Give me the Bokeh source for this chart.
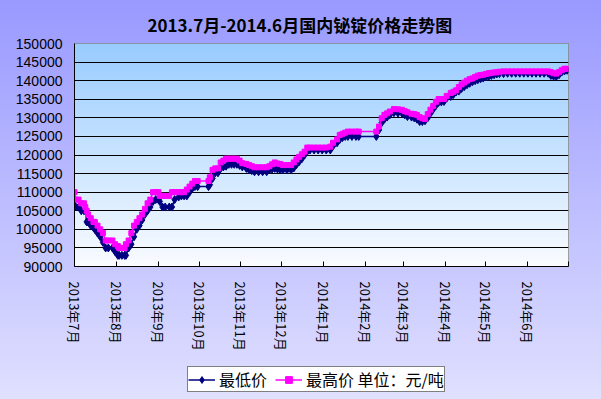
import numpy as np
from bokeh.plotting import figure
from bokeh.layouts import column
from bokeh.models import Range1d, FixedTicker, Legend, LegendItem
from bokeh.embed import file_html
from bokeh.resources import INLINE

title_text = "2013.7月-2014.6月国内铋锭价格走势图"
month_ticks = [0, 31, 62, 92, 123, 153, 184, 215, 243, 274, 304, 335]
month_labels = ["2013年7月", "2013年8月", "2013年9月", "2013年10月", "2013年11月", "2013年12月",
                "2014年1月", "2014年2月", "2014年3月", "2014年4月", "2014年5月", "2014年6月"]
y_ticks = [90000, 95000, 100000, 105000, 110000, 115000, 120000, 125000, 130000, 135000, 140000, 145000, 150000]
series_names = ["最低价", "最高价 单位：元/吨"]

# day offsets from 2013-07-01
days = [0, 1, 3, 5, 7, 8, 9, 10, 12, 14, 15, 17, 19, 21, 23, 25, 28, 30,
        32, 33, 35, 37, 38, 40, 42, 44, 46, 48, 50, 52, 54, 56, 58, 60,
        62, 63, 65, 67, 70, 72, 74, 77, 79, 81, 83, 85, 87, 89, 91,
        99, 100, 102, 104, 106, 108, 110, 112, 114, 116, 118, 120, 122,
        124, 127, 129, 131, 133, 136, 139, 142, 144, 146, 148, 150, 152,
        154, 157, 160, 162, 164, 166, 168, 170, 172, 174, 177, 180, 183,
        186, 189, 191, 194, 196, 198, 200, 202, 205, 208, 210,
        223, 225, 227, 229, 231, 233, 236, 239, 242,
        244, 246, 249, 251, 253, 255, 257, 259, 261, 263, 265, 267, 269, 271, 273,
        275, 278, 280, 282, 284, 286, 288, 290, 292, 294, 296, 298, 300, 302,
        304, 306, 308, 310, 312, 314, 317, 320, 323, 326, 329, 332,
        335, 338, 341, 344, 347, 350, 352, 354, 356, 358, 360, 362, 364]

high = [110000, 108000, 108000, 107000, 107000, 106000, 105000, 104000, 103000, 102000, 102000, 101000, 100000, 99000, 97000, 97000, 97000, 96000,
        95500, 95000, 95000, 95000, 96000, 97000, 99000, 101000, 102000, 103000, 104000, 105500, 107000, 108000, 110000, 110000,
        110000, 109000, 109000, 109000, 109000, 110000, 110000, 110000, 110000, 110000, 110700, 111500, 112300, 113000, 113000,
        113000, 114000, 116000, 116400, 116400, 118000, 118500, 119000, 119000, 119000, 119000, 119000, 118500,
        117800, 117600, 117300, 117000, 116700, 116700, 116700, 116700, 117000, 117500, 118000, 117700, 117600,
        117300, 117300, 117300, 118000, 118800, 119500, 120200, 120900, 122000, 122000, 122000, 122000, 122000,
        122000, 122250, 123300, 124200, 125400, 125700, 126000, 126300, 126300, 126300, 126300,
        126300, 127650, 129900, 130800, 131200, 131700, 132350, 132300, 132150,
        131800, 131500, 131100, 131000, 130800, 130200, 129900, 129700, 131000, 132200, 133200, 134300, 135050, 135050, 135050,
        135900, 136700, 137000, 137400, 138300, 139000, 139500, 140000, 140400, 140600, 141000, 141350, 141500, 141600,
        141800, 142000, 142100, 142200, 142250, 142400, 142500, 142500, 142500, 142500, 142500, 142500,
        142500, 142500, 142500, 142500, 142500, 142500, 142300, 142000, 141900, 142300, 142800, 143200, 143200]

low = [108000, 106000, 106000, 105000, 105000, 105000, 102000, 102000, 101000, 100500, 100000, 99000, 98000, 96500, 95000, 95000, 95000, 94000,
       93000, 93000, 93000, 93000, 93000, 95000, 96000, 98000, 100000, 101000, 102500, 104000, 105000, 106000, 107500, 108000,
       108000, 107500, 106000, 106000, 106000, 106000, 108000, 108700, 109000, 109000, 109000, 110000, 111000, 111500, 111500,
       111500, 112000, 113700, 115200, 115200, 116400, 116800, 117000, 117500, 117500, 117500, 117500, 117200,
       116800, 116400, 116000, 115800, 115500, 115500, 115500, 115500, 116000, 116200, 116400, 116200, 116100,
       116000, 116000, 116000, 116500, 117400, 118200, 119000, 120000, 121000, 121350, 121350, 121350, 121350,
       121350, 121350, 122400, 123300, 124200, 124700, 125000, 125000, 125000, 125000, 125000,
       125000, 126750, 128700, 129650, 130200, 130800, 131400, 131300, 131250,
       130800, 130350, 130200, 130000, 129650, 129000, 129000, 129200, 130000, 131200, 132300, 133300, 134150, 134300, 134400,
       135300, 135750, 136300, 137000, 137200, 137900, 138400, 138900, 139300, 139700, 140000, 140250, 140500, 140700,
       141000, 141150, 141400, 141600, 141800, 141900, 141900, 142000, 142000, 142000, 142000, 142000,
       142000, 142000, 142000, 142000, 142000, 142000, 141400, 141200, 141150, 141600, 142300, 142600, 142800]

assert len(days) == len(high) == len(low), (len(days), len(high), len(low))

CJK = "Noto Sans CJK SC"
BG = "linear-gradient(to bottom, #9999ff 0%, #e0e0ff 100%)"
NAVY = "#000080"
MAGENTA = "#FF00FF"

p = figure(frame_width=494, frame_height=223, x_range=Range1d(0, 365), y_range=Range1d(90000, 150000),
           output_backend="svg", toolbar_location=None,
           min_border_left=74, min_border_right=33, min_border_top=43, min_border_bottom=90)
p.border_fill_color = None
p.border_fill_alpha = 0
p.background_fill_color = "white"
p.outline_line_color = "#808080"
p.outline_line_width = 1

p.title.text = title_text
p.title.align = "left"
p.title.offset = 73
p.title.standoff = 14
p.title.text_font = CJK
p.title.text_font_size = "17px"
p.title.text_font_style = "bold"
p.title.text_color = "black"

# plot-area vertical gradient (style only)
n = 120
t = np.linspace(0.0, 1.0, n)[:, None]
bottom_c = np.array([250, 252, 255])
top_c = np.array([153, 204, 255])
cols = (bottom_c + (top_c - bottom_c) * t).astype(np.uint8)
img = np.empty((n, 1), dtype=np.uint32)
view = img.view(dtype=np.uint8).reshape((n, 1, 4))
view[:, 0, 0] = cols[:, 0]
view[:, 0, 1] = cols[:, 1]
view[:, 0, 2] = cols[:, 2]
view[:, 0, 3] = 255
p.image_rgba(image=[img], x=0, y=90000, dw=365, dh=60000, level="image")

p.xgrid.visible = False
p.ygrid.ticker = FixedTicker(ticks=y_ticks)
p.ygrid.grid_line_color = "black"
p.ygrid.grid_line_width = 1

p.yaxis.ticker = FixedTicker(ticks=y_ticks)
p.yaxis.major_label_overrides = {v: str(v) for v in y_ticks}
p.yaxis.major_label_text_font = "Liberation Sans"
p.yaxis.major_label_text_font_size = "14px"
p.yaxis.major_label_text_color = "black"
p.yaxis.major_tick_out = 0
p.yaxis.major_tick_in = 0
p.yaxis.minor_tick_line_color = None
p.yaxis.axis_line_color = "black"
p.yaxis.major_label_standoff = 12

p.xaxis.ticker = FixedTicker(ticks=month_ticks + [365])
p.xaxis.major_label_overrides = {**{m: l for m, l in zip(month_ticks, month_labels)}, 365: ""}
p.xaxis.major_label_orientation = "vertical"
p.xaxis.major_label_text_font = CJK
p.xaxis.major_label_text_font_size = "13px"
p.xaxis.major_label_text_color = "black"
p.xaxis.major_tick_in = 5
p.xaxis.major_tick_out = 0
p.xaxis.major_tick_line_color = "black"
p.xaxis.minor_tick_line_color = None
p.xaxis.axis_line_color = "black"
p.xaxis.major_label_standoff = 15

p.line(days, low, line_color=NAVY, line_width=1.5)
p.scatter(days, low, marker="diamond", size=8, fill_color=NAVY, line_color=NAVY)
p.line(days, high, line_color=MAGENTA, line_width=1.5)
p.scatter(days, high, marker="square", size=5, fill_color=MAGENTA, line_color=MAGENTA)

# legend strip below the chart (its own small canvas so nothing is clipped);
# the legend-swatch renderers sit outside the visible range, only their styles show in the legend
lg = figure(width=601, height=43, x_range=Range1d(0, 1), y_range=Range1d(0, 1),
            output_backend="svg", toolbar_location=None, x_axis_type=None, y_axis_type=None,
            min_border=0, min_border_left=0, min_border_right=0, min_border_top=0, min_border_bottom=0)
lg.border_fill_color = None
lg.border_fill_alpha = 0
lg.background_fill_color = None
lg.background_fill_alpha = 0
lg.outline_line_color = None
lg.grid.visible = False
sw_x = [5, 6]
sw_y = [5, 6]
ll1 = lg.line(sw_x, sw_y, line_color=NAVY, line_width=1.5)
ls1 = lg.scatter(sw_x, sw_y, marker="diamond", size=6, fill_color=NAVY, line_color=NAVY)
ll2 = lg.line(sw_x, sw_y, line_color=MAGENTA, line_width=1.5)
ls2 = lg.scatter(sw_x, sw_y, marker="square", size=4, fill_color=MAGENTA, line_color=MAGENTA)

legend = Legend(items=[LegendItem(label=series_names[0], renderers=[ll1, ls1]),
                       LegendItem(label=series_names[1], renderers=[ll2, ls2])],
                location=(113, 7), orientation="horizontal")
legend.background_fill_color = "white"
legend.background_fill_alpha = 1
legend.border_line_color = "black"
legend.border_line_width = 1
legend.label_text_font = CJK
legend.label_text_font_size = "16px"
legend.label_text_color = "black"
legend.padding = 0
legend.spacing = 8
legend.label_standoff = 4
legend.glyph_width = 27
legend.glyph_height = 17
legend.margin = 0
lg.add_layout(legend, "center")

layout = column(p, lg, spacing=0)

html = file_html(layout, INLINE)
i = html.rfind("<body")
j = html.find(">", i)
html = (html[:i] + '<body style="margin:0;padding:0;overflow:hidden;background:' + BG + ';">' + html[j + 1:])
html = html.replace("</head>", "<style>html,body{margin:0;padding:0;width:601px;height:399px;background:"
                    + BG + ";}</style></head>", 1)
open("out.html", "w").write(html)
